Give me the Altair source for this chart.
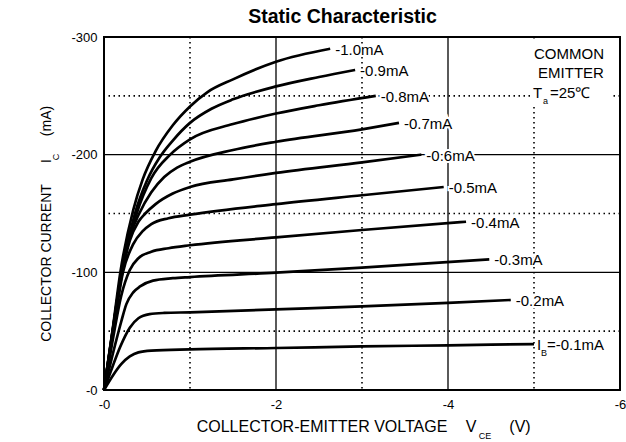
import altair as alt
import pandas as pd

FONT = "Liberation Sans"

# ---- data (V_CE in V, I_C in mA) ----
ib_names = ["-1.0mA", "-0.9mA", "-0.8mA", "-0.7mA", "-0.6mA",
            "-0.5mA", "-0.4mA", "-0.3mA", "-0.2mA", "I"]

c10_v = [0, -0.1, -0.19, -0.34, -0.45, -0.6, -0.8, -1.0, -1.2, -1.5, -2.0, -2.63]
c10_i = [0, -51, -100, -153, -179, -203, -225, -241, -253, -264, -279, -290]

c09_v = [0, -0.1, -0.2, -0.36, -0.5, -0.65, -0.8, -1.0, -1.25, -1.5, -2.0, -2.5, -2.92]
c09_i = [0, -50, -99, -150, -178, -198, -212, -227, -239, -247, -258, -266, -272]

c08_v = [0, -0.1, -0.2, -0.38, -0.55, -0.77, -1.0, -1.5, -2.0, -2.5, -3.16]
c08_i = [0, -50, -98, -150, -180, -200, -213, -226, -235, -242, -250]

c07_v = [0, -0.1, -0.2, -0.3, -0.41, -0.55, -0.7, -0.85, -1.0, -1.5, -2.0, -3.0, -3.43]
c07_i = [0, -49, -97, -130, -150, -168, -181, -189, -194, -204, -211, -221.5, -227]

c06_v = [0, -0.1, -0.2, -0.3, -0.4, -0.48, -0.6, -0.8, -1.0, -1.5, -2.0, -3.0, -3.69]
c06_i = [0, -48, -95, -127, -143, -150, -158, -167, -172.5, -179, -184.5, -193.5, -200]

c05_v = [0, -0.1, -0.22, -0.34, -0.45, -0.55, -0.75, -1.0, -2.0, -3.0, -3.95]
c05_i = [0, -46, -100, -124, -135, -141, -146, -149, -158, -165.5, -172.5]

c04_v = [0, -0.1, -0.2, -0.3, -0.4, -0.55, -0.75, -1.0, -2.0, -3.0, -4.21]
c04_i = [0, -42, -80, -102, -112, -117.5, -120.5, -123, -129.7, -136, -143]

c03_v = [0, -0.1, -0.2, -0.26, -0.34, -0.42, -0.57, -0.8, -1.0, -2.0, -3.0, -4.48]
c03_i = [0, -30, -58, -73, -83, -88, -93, -95, -96, -99.7, -104, -111]

c02_v = [0, -0.1, -0.19, -0.3, -0.4, -0.53, -0.7, -1.0, -2.0, -3.0, -4.0, -4.73]
c02_i = [0, -20, -37, -53, -61, -64.5, -65.5, -66, -68.5, -71, -74, -76.5]

c01_v = [0, -0.1, -0.2, -0.3, -0.4, -0.55, -1.0, -2.0, -3.0, -4.0, -5.0]
c01_i = [0, -12, -22, -28.5, -32, -33.5, -34.6, -35.7, -37, -38, -39]

curves_v = [c10_v, c09_v, c08_v, c07_v, c06_v, c05_v, c04_v, c03_v, c02_v, c01_v]
curves_i = [c10_i, c09_i, c08_i, c07_i, c06_i, c05_i, c04_i, c03_i, c02_i, c01_i]

x_ticks = [0, -2, -4, -6]
y_ticks = [0, -100, -200, -300]
grid_solid_x = [-2, -4]
grid_dot_x = [-1, -3, -5]
grid_solid_y = [-100, -200]
grid_dot_y = [-50, -150, -250]

# ---- tables ----
rows = []
ends = []
for k, (vs, iss) in enumerate(zip(curves_v, curves_i)):
    for j, (v, i) in enumerate(zip(vs, iss)):
        rows.append({"curve": ib_names[k], "order": j, "v": v, "i": i})
    ends.append({"curve": ib_names[k], "v": vs[-1], "i": iss[-1]})
df = pd.DataFrame(rows)
df_end = pd.DataFrame(ends)
df_end_main = df_end[df_end["curve"] != "I"]
df_end_b = df_end[df_end["curve"] == "I"]

xs = alt.Scale(domain=[0, -6], nice=False, zero=False)
ys = alt.Scale(domain=[0, -300], nice=False, zero=False)

xaxis = alt.Axis(values=x_ticks, labelExpr="'-' + abs(datum.value)", ticks=False,
                 domain=False, grid=False, labelFont=FONT, labelFontSize=13,
                 labelColor="black", labelPadding=8, labelFlush=False, title=None)
yaxis = alt.Axis(values=y_ticks, labelExpr="'-' + abs(datum.value)", ticks=False,
                 domain=False, grid=False, labelFont=FONT, labelFontSize=13,
                 labelColor="black", labelPadding=7, title=None)

base_x = alt.X("v:Q", scale=xs, axis=xaxis)
base_y = alt.Y("i:Q", scale=ys, axis=yaxis)

vs_solid = alt.Chart(pd.DataFrame({"v": grid_solid_x})).mark_rule(
    color="black", strokeWidth=1.3).encode(x=alt.X("v:Q", scale=xs, axis=xaxis))
vs_dot = alt.Chart(pd.DataFrame({"v": grid_dot_x})).mark_rule(
    color="black", strokeWidth=1.6, strokeDash=[1.5, 3.5]).encode(x=alt.X("v:Q", scale=xs, axis=xaxis))
hs_solid = alt.Chart(pd.DataFrame({"i": grid_solid_y})).mark_rule(
    color="black", strokeWidth=1.3).encode(y=alt.Y("i:Q", scale=ys, axis=yaxis))
hs_dot = alt.Chart(pd.DataFrame({"i": grid_dot_y})).mark_rule(
    color="black", strokeWidth=1.6, strokeDash=[1.5, 3.5]).encode(y=alt.Y("i:Q", scale=ys, axis=yaxis))

note_box = alt.Chart(pd.DataFrame({"a": [0]})).mark_rect(color="white").encode(
    x=alt.value(427), x2=alt.value(509), y=alt.value(5), y2=alt.value(68))

lines = alt.Chart(df).mark_line(color="black", strokeWidth=2.7, interpolate="monotone").encode(
    x=base_x, y=base_y, detail="curve:N", order="order:Q")

lab_kw = dict(align="left", baseline="middle", font=FONT, fontSize=15, dx=5, dy=1)
labels_halo = alt.Chart(df_end_main).mark_text(
    color="black", stroke="white", strokeWidth=4, **lab_kw).encode(x=base_x, y=base_y, text="curve:N")
labels = alt.Chart(df_end_main).mark_text(color="black", **lab_kw).encode(
    x=base_x, y=base_y, text="curve:N")

ib_I = alt.Chart(df_end_b).mark_text(align="left", baseline="middle", font=FONT, fontSize=15,
                                     dx=3, dy=1, color="black").encode(x=base_x, y=base_y, text="curve:N")
ib_B = alt.Chart(df_end_b).mark_text(align="left", baseline="middle", font=FONT, fontSize=9,
                                     dx=7, dy=9, color="black", text="B").encode(x=base_x, y=base_y)
ib_rest = alt.Chart(df_end_b).mark_text(align="left", baseline="middle", font=FONT, fontSize=15,
                                        dx=13, dy=1, color="black", text="=-0.1mA").encode(x=base_x, y=base_y)


def txt(s, x, y, size=15, align="center", angle=0, weight="normal"):
    return alt.Chart(pd.DataFrame({"a": [0]})).mark_text(
        text=s, align=align, baseline="middle", font=FONT, fontSize=size,
        angle=angle, fontWeight=weight, color="black").encode(x=alt.value(x), y=alt.value(y))


notes = [
    txt("Static Characteristic", 238.5, -20, size=19.5, weight="bold"),
    txt("COMMON", 465, 17),
    txt("EMITTER", 467, 36),
    txt("T", 429, 56, align="left"),
    txt("a", 439, 64, size=9, align="left"),
    txt("=25℃", 446, 56, align="left"),
    txt("COLLECTOR-EMITTER VOLTAGE", 218, 390, size=16),
    txt("V", 367, 390, size=16),
    txt("CE", 381, 399, size=9),
    txt("(V)", 416, 390, size=16),
    txt("COLLECTOR CURRENT", -57, 226, size=14, angle=270),
    txt("I", -57, 124, size=14, angle=270),
    txt("C", -48, 120, size=9, angle=270),
    txt("(mA)", -57, 84, size=14, angle=270),
]

chart = alt.layer(vs_dot, hs_dot, vs_solid, hs_solid, note_box, lines,
                  labels_halo, labels, ib_I, ib_B, ib_rest, *notes).properties(
    width=516, height=353,
    autosize=alt.AutoSizeParams(type="none"),
    padding={"left": 104, "top": 37, "right": 6, "bottom": 52},
    background="white",
).configure_view(stroke="black", strokeWidth=2)

chart.save("out.html", embed_options={"renderer": "svg", "actions": False})
